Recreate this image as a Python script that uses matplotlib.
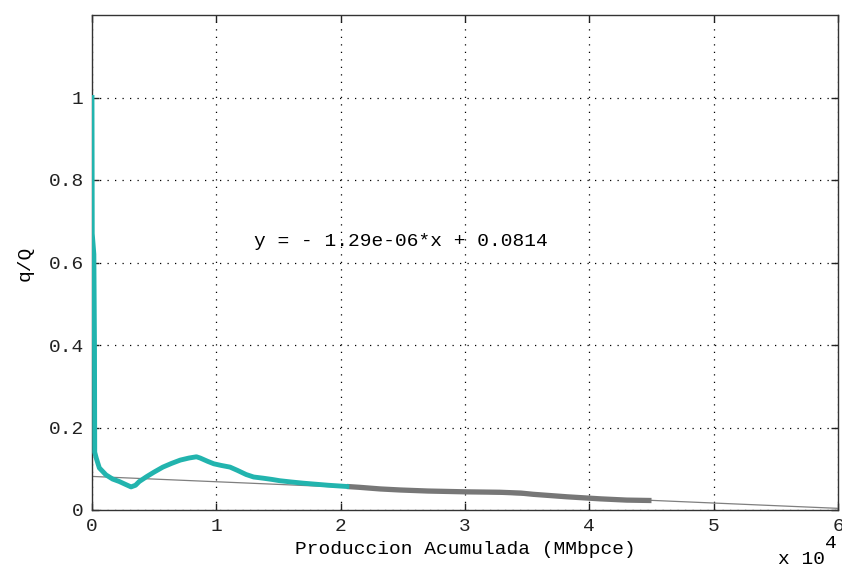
import numpy as np
import matplotlib.pyplot as plt

# cumulative production (MMbpce) and q/Q ratio
x_early = [0, 20, 150, 200, 220, 350, 590, 1130, 1660, 2200, 2700, 3140, 3500,
           3800, 4400, 5000, 5700, 6400, 7100, 7800, 8400, 8700, 9300, 9800,
           10400, 11100, 11700, 12400, 13000, 13800, 14500, 15100, 16000,
           17000, 17800, 19000, 20500]
y_early = [1.0, 0.67, 0.62, 0.40, 0.14, 0.125, 0.102, 0.085, 0.075, 0.069,
           0.062, 0.056, 0.060, 0.069, 0.081, 0.092, 0.104, 0.113, 0.121,
           0.126, 0.129, 0.126, 0.118, 0.112, 0.108, 0.104, 0.096, 0.086,
           0.080, 0.077, 0.074, 0.071, 0.068, 0.065, 0.063, 0.060, 0.057]

x_late = [20500, 21500, 23200, 24800, 27000, 30100, 32800, 34500, 35500,
          38200, 40900, 43000, 45000]
y_late = [0.057, 0.055, 0.051, 0.0485, 0.046, 0.044, 0.043, 0.041, 0.038,
          0.032, 0.027, 0.024, 0.023]

# linear fit of the late data
slope = -1.29e-06
intercept = 0.0814

xticks = [0, 10000, 20000, 30000, 40000, 50000, 60000]
xtick_labels = ['0', '1', '2', '3', '4', '5', '6']
yticks = [0, 0.2, 0.4, 0.6, 0.8, 1.0]
ytick_labels = ['0', '0.2', '0.4', '0.6', '0.8', '1']

plt.rcParams['font.family'] = ['Liberation Mono', 'DejaVu Sans Mono']

fig = plt.figure(figsize=(8.42, 5.69), dpi=100)
ax = fig.add_axes([92 / 842, 59 / 569, 746 / 842, 495 / 569])

x_fit = np.array([0, 60000])
ax.plot(x_fit, slope * x_fit + intercept, color='#7f7f7f', lw=0.9, zorder=2)
ax.plot(x_late, y_late, color='#777777', lw=3.8, solid_capstyle='butt', zorder=3)
ax.plot(x_early, y_early, color='#22b4ae', lw=3.5, zorder=4)

ax.set_xlim(0, 60000)
ax.set_ylim(0, 1.2)
ax.set_xticks(xticks)
ax.set_xticklabels(xtick_labels)
ax.set_yticks(yticks)
ax.set_yticklabels(ytick_labels)

ax.grid(True, color='black', linestyle=(0, (1, 5)), lw=0.9)
ax.tick_params(direction='in', length=5, width=1, top=True, right=True,
               labelsize=14, pad=6, colors='#222222')
for sp in ax.spines.values():
    sp.set_color('#333333')
    sp.set_linewidth(1.0)

ax.text(13000, 0.65, 'y = - 1.29e-06*x + 0.0814', fontsize=14,
        ha='left', va='center')

fig.text(465 / 842, 1 - 549 / 569, 'Produccion Acumulada (MMbpce)',
         fontsize=14, ha='center', va='center')
fig.text(25 / 842, 1 - 263 / 569, 'q/Q', fontsize=14, rotation=90,
         ha='center', va='center')
fig.text(802 / 842, 1 - 560 / 569, 'x 10', fontsize=14, ha='center', va='center')
fig.text(831 / 842, 1 - 544 / 569, '4', fontsize=14, ha='center', va='center')

fig.savefig('out.png', dpi=100)
